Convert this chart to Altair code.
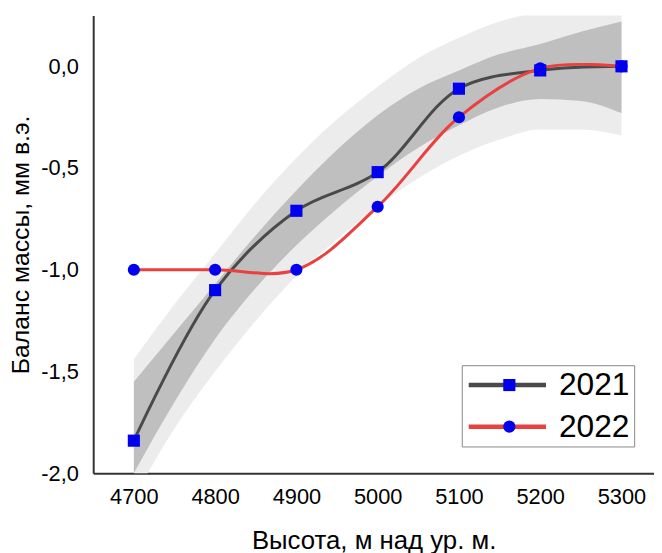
import altair as alt
import pandas as pd

# ---- data ----
heights = [4700, 4800, 4900, 5000, 5100, 5200, 5300]
bal_2021 = [-1.84, -1.10, -0.71, -0.52, -0.11, -0.02, 0.00]
bal_2022 = [-1.00, -1.00, -1.00, -0.69, -0.25, -0.01, 0.00]

band_h = [4700, 4750, 4800, 4850, 4900, 4950, 5000, 5050, 5100, 5150, 5200, 5250, 5300]
dark_lo = [-2.00, -1.65, -1.34, -1.09, -0.88, -0.70, -0.54, -0.40, -0.29, -0.20, -0.16, -0.17, -0.23]
dark_hi = [-1.55, -1.31, -1.07, -0.83, -0.61, -0.41, -0.24, -0.11, -0.02, 0.06, 0.11, 0.17, 0.22]
light_lo = [-2.12, -1.78, -1.50, -1.25, -1.03, -0.85, -0.69, -0.55, -0.44, -0.36, -0.31, -0.31, -0.34]
light_hi = [-1.44, -1.17, -0.92, -0.67, -0.45, -0.26, -0.10, 0.04, 0.14, 0.22, 0.27, 0.31, 0.34]

years = ["2021", "2022"]
x_ticks = [4700, 4800, 4900, 5000, 5100, 5200, 5300]
y_ticks = [-2.0, -1.5, -1.0, -0.5, 0.0]

lines_df = pd.DataFrame({
    "h": heights * 2,
    "v": bal_2021 + bal_2022,
    "year": [years[0]] * len(heights) + [years[1]] * len(heights),
})
lines_df["year_m"] = lines_df["year"]

band_df = pd.DataFrame({
    "h": band_h, "dlo": dark_lo, "dhi": dark_hi, "llo": light_lo, "lhi": light_hi,
})

FONT = "Liberation Sans"

xscale = alt.Scale(domain=[4650, 5340], nice=False, zero=False)
yscale = alt.Scale(domain=[-2.0, 0.25], nice=False, zero=False)

xaxis = alt.Axis(values=x_ticks, format="d", title="Высота, м над ур. м.",
                 labelPadding=14, titlePadding=20, labelFlush=False)
yaxis = alt.Axis(values=y_ticks, title="Баланс массы, мм в.э.",
                 labelExpr="replace(replace(format(datum.value, '.1f'), '.', ','), '\u2212', '-')",
                 labelPadding=15, titlePadding=7, titleFontSize=25, labelFlush=False)


def X():
    return alt.X("h:Q", scale=xscale, axis=xaxis)


def Y(field):
    return alt.Y(f"{field}:Q", scale=yscale, axis=yaxis)


light = alt.Chart(band_df).mark_area(color="#ececec", interpolate="monotone", clip=True, opacity=1).encode(
    x=X(), y=Y("llo"), y2="lhi:Q")
dark = alt.Chart(band_df).mark_area(color="#bfbfbf", interpolate="monotone", clip=True, opacity=1).encode(
    x=X(), y=Y("dlo"), y2="dhi:Q")

line = alt.Chart(lines_df).mark_line(interpolate="catmull-rom", strokeWidth=3, clip=True).encode(
    x=X(), y=Y("v"),
    color=alt.Color("year:N", scale=alt.Scale(domain=years, range=["#4a4a4a", "#e8413f"]),
                    legend=alt.Legend(title=None, orient="none", legendX=372, legendY=353,
                                      symbolType="M-1,0H5", symbolSize=676, symbolStrokeWidth=4.5,
                                      labelFontSize=32, labelFont=FONT, labelColor="black",
                                      labelOffset=62, padding=4, rowPadding=10,
                                      strokeColor="#888888", cornerRadius=0)),
)

pts = alt.Chart(lines_df).mark_point(filled=True, size=150, opacity=1, color="#0000ee").encode(
    x=X(), y=Y("v"),
    shape=alt.Shape("year_m:N", scale=alt.Scale(range=["square", "circle"]),
                    legend=alt.Legend(title=None, orient="none", legendX=400, legendY=353,
                                      symbolSize=150, symbolFillColor="#0000ee", symbolStrokeWidth=0,
                                      symbolOpacity=1, labelExpr="''",
                                      labelFontSize=32, labelFont=FONT, labelOpacity=0,
                                      labelOffset=10, padding=4, rowPadding=10)),
)

chart = alt.layer(light, dark, line, pts).properties(
    width=566, height=462,
    autosize=alt.AutoSizeParams(type="none"),
    padding={"left": 86, "top": 5, "right": 0, "bottom": 80},
).configure_view(stroke=None).configure_axis(
    domainColor="#333333", domainWidth=2, ticks=False, tickSize=0, grid=False,
    labelFont=FONT, labelFontSize=22, labelColor="black",
    titleFont=FONT, titleFontSize=26, titleFontWeight="normal", titleColor="black",
)

chart.save("out.html", embed_options={"renderer": "svg", "actions": False})
